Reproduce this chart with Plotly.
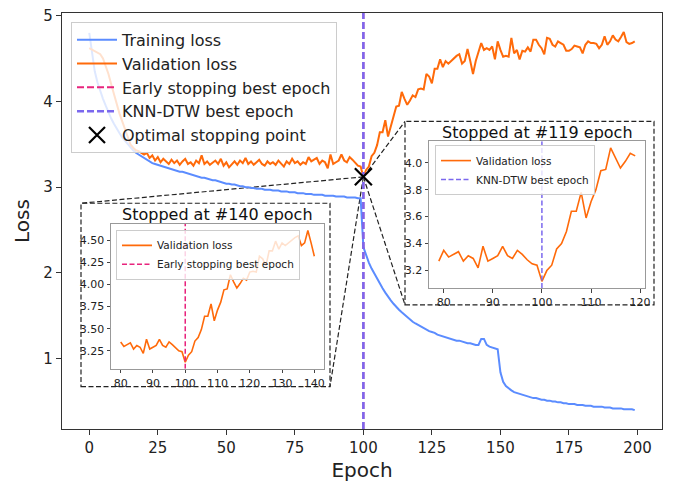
import plotly.graph_objects as go

# ---------------- data ----------------
epochs = list(range(200))

training_loss = [
    4.80, 4.55, 4.35, 4.22, 4.12, 4.03, 3.95, 3.87, 3.80, 3.74, 3.68, 3.63, 3.58, 3.54, 3.50, 3.46, 3.43, 3.40, 3.38, 3.36,
    3.34, 3.32, 3.30, 3.28, 3.27, 3.26, 3.25, 3.24, 3.23, 3.22, 3.21, 3.20, 3.19, 3.18, 3.18, 3.17, 3.16, 3.15, 3.14, 3.13,
    3.12, 3.11, 3.11, 3.10, 3.09, 3.08, 3.08, 3.07, 3.06, 3.05, 3.04, 3.04, 3.03, 3.03, 3.02, 3.01, 3.01, 3.00, 3.00, 2.99,
    2.99, 2.98, 2.98, 2.98, 2.97, 2.97, 2.97, 2.96, 2.96, 2.96, 2.95, 2.95, 2.95, 2.94, 2.94, 2.94, 2.93, 2.93, 2.93, 2.92,
    2.92, 2.92, 2.91, 2.91, 2.91, 2.91, 2.90, 2.90, 2.90, 2.90, 2.89, 2.89, 2.89, 2.89, 2.88, 2.88, 2.88, 2.88, 2.87, 2.87,
    2.30, 2.20, 2.12, 2.05, 1.99, 1.93, 1.87, 1.82, 1.77, 1.72, 1.68, 1.64, 1.60, 1.57, 1.54, 1.51, 1.48, 1.46, 1.43, 1.41,
    1.39, 1.37, 1.36, 1.34, 1.32, 1.31, 1.30, 1.28, 1.27, 1.26, 1.25, 1.24, 1.23, 1.22, 1.21, 1.21, 1.20, 1.19, 1.18, 1.18,
    1.17, 1.16, 1.16, 1.23, 1.23, 1.16, 1.14, 1.13, 1.12, 1.11, 0.84, 0.73, 0.68, 0.65, 0.63, 0.61, 0.60, 0.59, 0.58, 0.57,
    0.56, 0.55, 0.54, 0.54, 0.53, 0.52, 0.52, 0.51, 0.51, 0.50, 0.50, 0.49, 0.49, 0.48, 0.48, 0.47, 0.47, 0.47, 0.46, 0.46,
    0.46, 0.45, 0.45, 0.45, 0.44, 0.44, 0.44, 0.44, 0.43, 0.43, 0.43, 0.42, 0.42, 0.42, 0.42, 0.41, 0.41, 0.41, 0.41, 0.40,
]

validation_loss = [
    4.62, 4.60, 4.58, 4.57, 4.55, 4.50, 4.42, 4.32, 4.20, 4.08, 3.97, 3.86, 3.77, 3.68, 3.58, 3.50, 3.46, 3.43, 3.42, 3.40,
    3.38, 3.40, 3.34, 3.37, 3.31, 3.35, 3.29, 3.33, 3.30, 3.27, 3.32, 3.28, 3.31, 3.26, 3.30, 3.33, 3.27, 3.29, 3.25, 3.31,
    3.28, 3.37, 3.27, 3.30, 3.26, 3.29, 3.31, 3.27, 3.33, 3.25, 3.29, 3.23, 3.27, 3.30, 3.26, 3.31, 3.28, 3.34, 3.27, 3.30,
    3.26, 3.29, 3.32, 3.27, 3.25, 3.30, 3.27, 3.29, 3.26, 3.31, 3.28, 3.24, 3.30, 3.27, 3.33, 3.28, 3.30, 3.26, 3.29,
    3.27, 3.35, 3.30, 3.32, 3.34, 3.27, 3.31, 3.29, 3.22, 3.38, 3.27, 3.29, 3.31, 3.38, 3.31, 3.29, 3.35, 3.32, 3.28, 3.25, 3.24,
    3.12, 3.20, 3.24, 3.36, 3.40, 3.49, 3.64, 3.64, 3.78, 3.59, 3.71, 3.80, 3.94, 3.95, 4.11, 4.03, 3.96, 4.01, 4.07, 4.05,
    4.14, 4.15, 4.14, 4.32, 4.29, 4.21, 4.38, 4.38, 4.49, 4.40, 4.47, 4.44, 4.47, 4.51, 4.53, 4.55, 4.44, 4.47, 4.61, 4.47, 4.32,
    4.47, 4.58, 4.68, 4.60, 4.62, 4.60, 4.64, 4.49, 4.70, 4.60, 4.52, 4.53, 4.52, 4.74, 4.56, 4.60, 4.49, 4.59, 4.58,
    4.63, 4.58, 4.72, 4.72, 4.66, 4.62, 4.55, 4.74, 4.73, 4.66, 4.64, 4.70, 4.68, 4.66, 4.59, 4.59, 4.61, 4.65, 4.64, 4.63,
    4.56, 4.66, 4.70, 4.68, 4.68, 4.67, 4.62, 4.66, 4.76, 4.66, 4.70, 4.77, 4.72, 4.70, 4.75, 4.81, 4.69, 4.67, 4.68, 4.70,
]
assert len(training_loss) == 200 and len(validation_loss) == 200

best_epoch = 100          # both early stopping and KNN-DTW
early_stop_epoch = 140
knn_stop_epoch = 119
inset1_first = 80
inset2_first = 79

x_main_ticks = [0, 25, 50, 75, 100, 125, 150, 175, 200]
y_main_ticks = [1, 2, 3, 4, 5]
inset1_xticks = [80, 90, 100, 110, 120, 130, 140]
inset1_yticks = [3.25, 3.50, 3.75, 4.00, 4.25, 4.50]
inset2_xticks = [80, 90, 100, 110, 120]
inset2_yticks = [3.2, 3.4, 3.6, 3.8, 4.0]

# ---------------- styles ----------------
C_TRAIN = "#5b8cff"
C_VAL = "#ff6a0a"
C_EARLY = "#e8247d"
C_KNN = "#7b68ee"
FONT = "DejaVu Sans"

W, H = 675, 487
ML, MR, MT, MB = 62, 13, 7, 58
PW, PH = W - ML - MR, H - MT - MB


def px(p):
    return (p - ML) / PW


def py(p):
    return (MT + PH - p) / PH


def pad(lo, hi, f=0.05):
    d = (hi - lo) * f
    return [lo - d, hi + d]


x_main = pad(epochs[0], epochs[-1])
y_main = pad(min(min(training_loss), min(validation_loss)),
             max(max(training_loss), max(validation_loss)))

e1 = epochs[inset1_first:early_stop_epoch + 1]
v1 = validation_loss[inset1_first:early_stop_epoch + 1]
e2 = epochs[inset2_first:knn_stop_epoch + 1]
v2 = validation_loss[inset2_first:knn_stop_epoch + 1]
x1r = pad(e1[0], e1[-1]); y1r = pad(min(v1), max(v1))
x2r = pad(e2[0], e2[-1]); y2r = pad(min(v2), max(v2))

best_val = validation_loss[best_epoch]

fig = go.Figure()

# main
fig.add_trace(go.Scatter(x=epochs, y=training_loss, mode="lines", name="Training loss",
                         line=dict(color=C_TRAIN, width=2), legend="legend"))
fig.add_trace(go.Scatter(x=epochs, y=validation_loss, mode="lines", name="Validation loss",
                         line=dict(color=C_VAL, width=2), legend="legend"))
fig.add_trace(go.Scatter(x=[best_epoch, best_epoch], y=y_main, mode="lines", name="Early stopping best epoch",
                         line=dict(color=C_EARLY, width=2, dash="7px,3px"), legend="legend"))
fig.add_trace(go.Scatter(x=[best_epoch, best_epoch], y=y_main, mode="lines", name="KNN-DTW best epoch",
                         line=dict(color=C_KNN, width=2.5, dash="7px,3px"), legend="legend"))
fig.add_trace(go.Scatter(x=[best_epoch], y=[best_val], mode="markers", name="Optimal stopping point",
                         marker=dict(symbol="x-thin", size=17, color="black",
                                     line=dict(color="black", width=2.2)), legend="legend"))

# inset 1
fig.add_trace(go.Scatter(x=e1, y=v1, mode="lines", name="Validation loss", xaxis="x2", yaxis="y2",
                         line=dict(color=C_VAL, width=1.6), legend="legend2"))
fig.add_trace(go.Scatter(x=[best_epoch, best_epoch], y=y1r, mode="lines", name="Early stopping best epoch",
                         xaxis="x2", yaxis="y2", line=dict(color=C_EARLY, width=1.5, dash="5px,2.5px"),
                         legend="legend2"))
# inset 2
fig.add_trace(go.Scatter(x=e2, y=v2, mode="lines", name="Validation loss", xaxis="x3", yaxis="y3",
                         line=dict(color=C_VAL, width=1.6), legend="legend3"))
fig.add_trace(go.Scatter(x=[best_epoch, best_epoch], y=y2r, mode="lines", name="KNN-DTW best epoch",
                         xaxis="x3", yaxis="y3", line=dict(color=C_KNN, width=1.5, dash="5px,2.5px"),
                         legend="legend3"))

# marker position in paper coordinates (from main axis scales)
mx = (best_epoch - x_main[0]) / (x_main[1] - x_main[0])
my = (best_val - y_main[0]) / (y_main[1] - y_main[0])

box1 = dict(l=81, r=330, t=200, b=386)
box2 = dict(l=405, r=654, t=117, b=303)
dash_style = dict(color="#222", width=1.2, dash="5px,2.5px")
shapes = []
for b in (box1, box2):
    shapes.append(dict(type="rect", xref="paper", yref="paper", x0=px(b["l"]), x1=px(b["r"]),
                       y0=py(b["b"]), y1=py(b["t"]), line=dash_style, layer="below"))
for (cx, cy) in [(box1["l"], box1["t"]), (box1["r"], box1["b"]), (box2["l"], box2["t"]), (box2["l"], box2["b"])]:
    shapes.append(dict(type="line", xref="paper", yref="paper", x0=mx, y0=my, x1=px(cx), y1=py(cy),
                       line=dash_style, layer="below"))

tickfont_main = dict(family=FONT, size=15, color="#222")
tickfont_in = dict(family=FONT, size=11, color="#222")

inset_axis = dict(showgrid=False, zeroline=False, showline=True, mirror=True, linecolor="#999",
                  linewidth=1, ticks="outside", ticklen=3.5, tickwidth=1, tickcolor="#444",
                  tickfont=tickfont_in)

fig.update_layout(
    width=W, height=H,
    margin=dict(l=ML, r=MR, t=MT, b=MB),
    paper_bgcolor="white", plot_bgcolor="rgba(0,0,0,0)",
    font=dict(family=FONT, color="#222"),
    xaxis=dict(domain=[0, 1], range=x_main, tickvals=x_main_ticks, showgrid=False, zeroline=False,
               showline=True, mirror=True, linecolor="#333", linewidth=1.2, ticks="outside",
               ticklen=5, tickcolor="#333", tickfont=tickfont_main,
               title=dict(text="Epoch", font=dict(family=FONT, size=20, color="#222"), standoff=6)),
    yaxis=dict(domain=[0, 1], range=y_main, tickvals=y_main_ticks, showgrid=False, zeroline=False,
               showline=True, mirror=True, linecolor="#333", linewidth=1.2, ticks="outside",
               ticklen=5, tickcolor="#333", tickfont=tickfont_main,
               title=dict(text="Loss", font=dict(family=FONT, size=20, color="#222"), standoff=8)),
    xaxis2=dict(domain=[px(111), px(324)], range=x1r, tickvals=inset1_xticks, anchor="y2", **inset_axis),
    yaxis2=dict(domain=[py(368), py(221)], range=y1r, tickvals=inset1_yticks, tickformat=".2f",
                anchor="x2", **inset_axis),
    xaxis3=dict(domain=[px(429), px(645)], range=x2r, tickvals=inset2_xticks, anchor="y3", **inset_axis),
    yaxis3=dict(domain=[py(286), py(137)], range=y2r, tickvals=inset2_yticks, tickformat=".1f",
                anchor="x3", **inset_axis),
    legend=dict(x=px(71), y=py(16), xanchor="left", yanchor="top", bgcolor="rgba(255,255,255,0.8)",
                bordercolor="#cccccc", borderwidth=1, itemwidth=40,
                font=dict(family=FONT, size=16, color="#222")),
    legend2=dict(x=px(116), y=py(227), xanchor="left", yanchor="top", bgcolor="rgba(255,255,255,0.8)",
                 bordercolor="#cccccc", borderwidth=1, itemwidth=30,
                 font=dict(family=FONT, size=10.5, color="#222")),
    legend3=dict(x=px(435), y=py(141), xanchor="left", yanchor="top", bgcolor="rgba(255,255,255,0.8)",
                 bordercolor="#cccccc", borderwidth=1, itemwidth=30,
                 font=dict(family=FONT, size=10.5, color="#222")),
    shapes=shapes,
    annotations=[
        dict(text=f"Stopped at #{early_stop_epoch} epoch", xref="paper", yref="paper",
             x=px((111 + 324) / 2), y=py(211), xanchor="center", yanchor="middle", showarrow=False,
             font=dict(family=FONT, size=16, color="#111")),
        dict(text=f"Stopped at #{knn_stop_epoch} epoch", xref="paper", yref="paper",
             x=px((429 + 645) / 2), y=py(128), xanchor="center", yanchor="middle", showarrow=False,
             font=dict(family=FONT, size=16, color="#111")),
    ],
)

fig.write_html("out.html",
               config={"displayModeBar": False},
               post_script="document.body.style.margin='0';document.body.style.padding='0';")
